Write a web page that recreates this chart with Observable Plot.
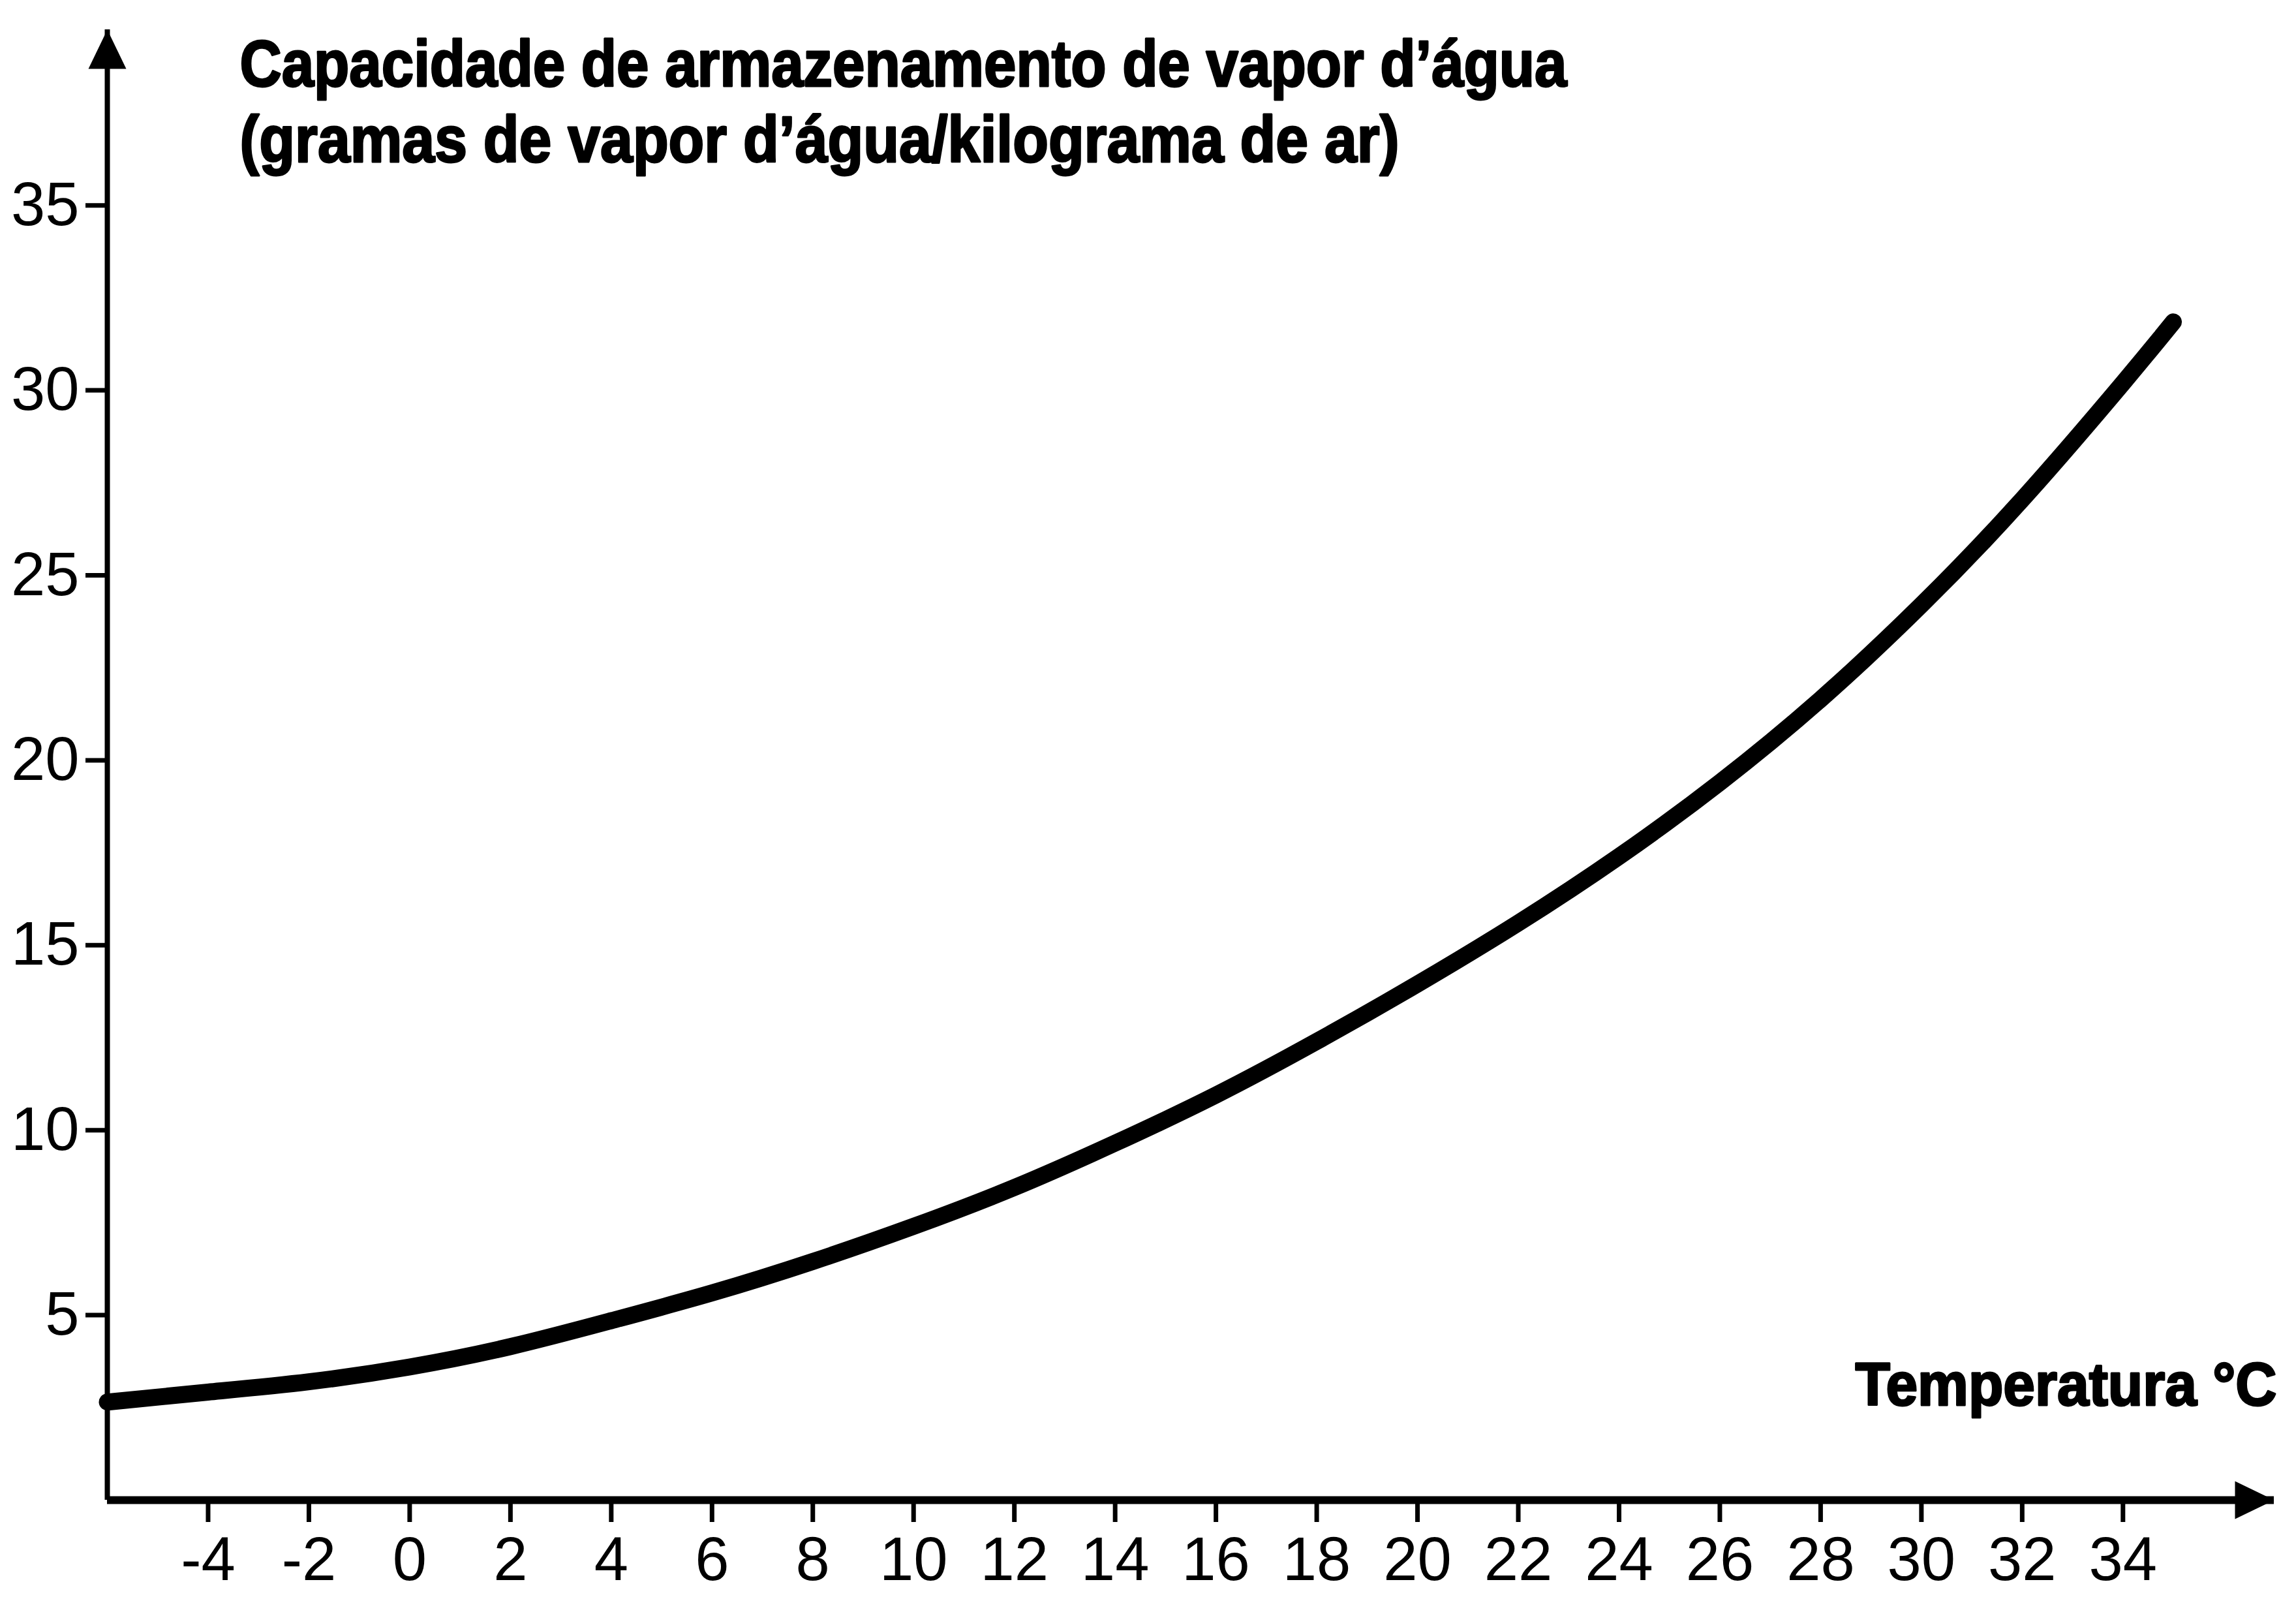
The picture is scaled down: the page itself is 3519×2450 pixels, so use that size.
<!DOCTYPE html>
<html>
<head>
<meta charset="utf-8">
<script src="https://cdn.jsdelivr.net/npm/d3@7"></script>
<script src="https://cdn.jsdelivr.net/npm/@observablehq/plot@0.6"></script>
<style>
  html, body { margin: 0; padding: 0; background: #fff; }
  #chart svg { display: block; }
</style>
</head>
<body>
<div id="chart"></div>
<script>
// ---- Data ----
const temperature = [-6, -4, -2, 0, 2, 4, 6, 8, 10, 12, 14, 16, 18, 20, 22, 24, 26, 28, 30, 32, 34, 35];
const capacity    = [2.65, 2.92, 3.2, 3.6, 4.15, 4.85, 5.6, 6.45, 7.4, 8.45, 9.65, 10.95, 12.4, 13.95, 15.6, 17.4, 19.4, 21.65, 24.2, 27.05, 30.2, 31.85];
const xTicks = [-4, -2, 0, 2, 4, 6, 8, 10, 12, 14, 16, 18, 20, 22, 24, 26, 28, 30, 32, 34];
const yTicks = [5, 10, 15, 20, 25, 30, 35];
const xDomain = [-6, 37];
const yDomain = [0, 39.75];
const titleLines = ["Capacidade de armazenamento de vapor d’água", "(gramas de vapor d’água/kilograma de ar)"];
const xLabel = "Temperatura °C";

const data = temperature.map((t, i) => ({t, v: capacity[i]}));
const font = "'Liberation Sans', Arial, Helvetica, sans-serif";

// filled arrow head, tip at the origin, pointing up
const arrowHead = {
  draw(ctx) {
    ctx.moveTo(0, 0);
    ctx.lineTo(-29, 60);
    ctx.lineTo(29, 60);
    ctx.closePath();
  }
};

const chart = Plot.plot({
  width: 3519,
  height: 2450,
  marginLeft: 164,
  marginRight: 34,
  marginTop: 45,
  marginBottom: 152,
  style: {fontFamily: font, background: "#fff", color: "#000", overflow: "visible"},
  x: {domain: xDomain},
  y: {domain: yDomain},
  marks: [
    // axes lines
    Plot.ruleY([yDomain[0]], {stroke: "#000", strokeWidth: 12}),
    Plot.ruleX([xDomain[0]], {stroke: "#000", strokeWidth: 8}),
    Plot.dot([{x: xDomain[0], y: yDomain[1]}], {x: "x", y: "y", symbol: arrowHead, r: 10, fill: "#000", stroke: null}),
    Plot.dot([{x: xDomain[1], y: yDomain[0]}], {x: "x", y: "y", symbol: arrowHead, r: 10, rotate: 90, fill: "#000", stroke: null}),
    // ticks + labels
    Plot.axisX({
      ticks: xTicks, tickSize: 34, tickPadding: 22, strokeWidth: 7,
      tickFormat: d => `${d}`, fontSize: 94, label: null, fill: "#000"
    }),
    Plot.axisY({
      ticks: yTicks, tickSize: 33, tickPadding: 10, strokeWidth: 7,
      tickFormat: d => `${d}`, fontSize: 94, label: null, fill: "#000"
    }),
    // curve
    Plot.line(data, {x: "t", y: "v", curve: "natural", stroke: "#000", strokeWidth: 26, strokeLinecap: "round"}),
    // titles
    Plot.text([titleLines[0]], {frameAnchor: "top-left", dx: 203, dy: 86, lineAnchor: "bottom", text: d => d,
      fontSize: 100, fontWeight: "bold", fill: "#000", stroke: "#000", strokeWidth: 3}),
    Plot.text([titleLines[1]], {frameAnchor: "top-left", dx: 203, dy: 202, lineAnchor: "bottom", text: d => d,
      fontSize: 100, fontWeight: "bold", fill: "#000", stroke: "#000", strokeWidth: 3}),
    Plot.text([xLabel], {frameAnchor: "bottom-right", dx: 4, dy: -146, lineAnchor: "bottom", textAnchor: "end", text: d => d,
      fontSize: 92, fontWeight: "bold", fill: "#000", stroke: "#000", strokeWidth: 3})
  ]
});

// condensed look of the original lettering
const widths = new Map([[titleLines[0], 2034], [titleLines[1], 1777], [xLabel, 646]]);
chart.querySelectorAll("text").forEach(t => {
  const w = widths.get(t.textContent);
  if (w) { t.setAttribute("textLength", w); t.setAttribute("lengthAdjust", "spacingAndGlyphs"); }
});

document.getElementById("chart").appendChild(chart);
</script>
</body>
</html>
